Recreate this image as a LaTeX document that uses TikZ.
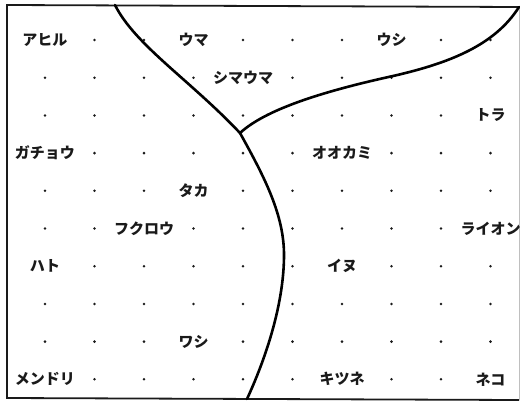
\documentclass[tikz,border=0pt]{standalone}
\usepackage{fontspec}
\usepackage{tikz}
\usetikzlibrary{positioning}
\newfontfamily\jp{Noto Sans CJK JP}
\definecolor{inkgray}{HTML}{1A1A1A}

\begin{document}
\begin{tikzpicture}[x=1pt,y=-1pt]
    \tikzstyle{animal}=[font=\jp\bfseries\fontsize{15}{15}\selectfont,inner sep=0pt,text=inkgray]
    \tikzstyle{pt}=[circle,fill=inkgray,inner sep=0pt,minimum size=2.8pt]
    \tikzstyle{border}=[line width=1.8pt,draw=inkgray]
    \tikzstyle{split}=[line width=2.6pt,draw=black,line cap=round,line join=round]
    \useasboundingbox (0,0) rectangle (520,405);
    \draw[border] (519,7) -- (7,5) -- (7,398) -- (519,400);
    \draw[line width=0.4pt,draw=black!25] (519,7) -- (519,400);
    \foreach \c/\r/\t/\n in {0/0/アヒル/ahiru,3/0/ウマ/uma,7/0/ウシ/ushi,4/1/シマウマ/shimauma,
        9/2/トラ/tora,0/3/ガチョウ/gachou,6/3/オオカミ/ookami,3/4/タカ/taka,
        2/5/フクロウ/fukurou,9/5/ライオン/raion,0/6/ハト/hato,6/6/イヌ/inu,
        3/8/ワシ/washi,0/9/メンドリ/mendori,6/9/キツネ/kitsune,9/9/ネコ/neko}
        \node[animal] (\n) at ({45+49.5*\c},{40+37.7*\r}) {\t};
    \foreach \r/\cols in {0/{1,2,4,5,6,8,9},1/{0,1,2,3,5,6,7,8,9},2/{0,1,2,3,4,5,6,7,8},
        3/{1,2,3,4,5,7,8,9},4/{0,1,2,4,5,6,7,8,9},5/{0,1,3,4,5,6,7,8},
        6/{1,2,3,4,5,7,8,9},7/{0,1,2,3,4,5,6,7,8,9},8/{0,1,2,4,5,6,7,8,9},
        9/{1,2,3,4,5,7,8}}
        \foreach \c in \cols
            \node[pt] (p-\r-\c) at ({45+49.5*\c},{40+37.7*\r}) {};
    \coordinate (fork) at (240,133);
    \coordinate (bulge) at (284,255);
    \coordinate (flat) at (393,76);
    \draw[split] (115,5) .. controls (135,45) and (190,80) .. (fork)
        .. controls (265,178) and (284,215) .. (bulge)
        .. controls (284,305) and (265,360) .. (247,399);
    \draw[split] (fork) .. controls (265,110) and (320,92) .. (flat)
        .. controls (450,63) and (495,45) .. (519,7);
\end{tikzpicture}
\end{document}
